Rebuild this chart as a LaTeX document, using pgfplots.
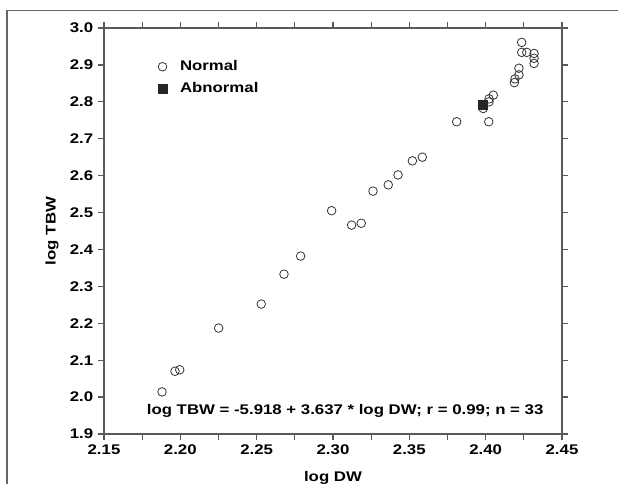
\documentclass[border=0pt]{standalone}
\usepackage{pgfplots}
\pgfplotsset{compat=1.18}
\usepackage{fontspec}
\setmainfont{Liberation Sans}[FakeStretch=1.2]
\begin{document}
\fontsize{14bp}{16bp}\selectfont\bfseries
\begin{tikzpicture}
\path[use as bounding box] (0,0) rectangle (618bp,484bp);
\draw[black!60, line width=1.5bp] (7bp,0) -- (7bp,473.5bp) -- (618bp,473.5bp);
\begin{axis}[
  at={(104bp,50bp)}, anchor=south west,
  width=458bp, height=406bp, scale only axis,
  xmin=2.15, xmax=2.45, ymin=1.9, ymax=3.0,
  xtick distance=0.05, ytick distance=0.1, minor x tick num=1,
  tick align=outside, major tick length=6bp, minor tick length=6bp,
  axis line style={black!65, line width=1.2bp},
  every tick/.style={black!65, line width=1.2bp},
  /pgf/number format/assume math mode=true,
  xticklabel style={/pgf/number format/.cd, fixed, fixed zerofill, precision=2},
  yticklabel style={/pgf/number format/.cd, fixed, fixed zerofill, precision=1},
  xlabel={log DW}, ylabel={log TBW},
  every axis y label/.style={at={(rel axis cs:-0.1135,0.5)}, rotate=90, anchor=center},
  every axis x label/.style={at={(rel axis cs:0.5,-0.108)}, anchor=center},
  legend style={at={(rel axis cs:0.111,0.93)}, anchor=north west, draw=none, fill=none,
    row sep=6bp, font=\fontsize{14bp}{16bp}\selectfont\bfseries},
  legend cell align=left,
]
\addplot[only marks, mark=o, mark size=4.3bp, black!80, mark options={line width=0.8bp}] table {
x y
2.188 2.014
2.1965 2.070
2.1996 2.074
2.2251 2.187
2.253 2.252
2.2679 2.333
2.2788 2.382
2.2991 2.505
2.3122 2.466
2.3185 2.471
2.3262 2.558
2.3362 2.575
2.3426 2.602
2.352 2.640
2.3585 2.650
2.381 2.746
2.402 2.746
2.3984 2.782
2.398 2.790
2.4022 2.800
2.4022 2.808
2.405 2.818
2.4188 2.852
2.4192 2.862
2.4218 2.873
2.4218 2.891
2.4236 2.934
2.4236 2.961
2.4269 2.934
2.4317 2.931
2.4317 2.918
2.4317 2.904
};
\addlegendentry{\hspace{11bp}Normal}
\addplot[only marks, mark=square*, mark size=4.5bp, black!85] table {
x y
2.398 2.791
};
\addlegendentry{\hspace{11bp}Abnormal}
\node[anchor=east] at (axis cs:2.441,1.962) {log TBW = -5.918 + 3.637 * log DW; r = 0.99; n = 33};
\end{axis}
\end{tikzpicture}
\end{document}
